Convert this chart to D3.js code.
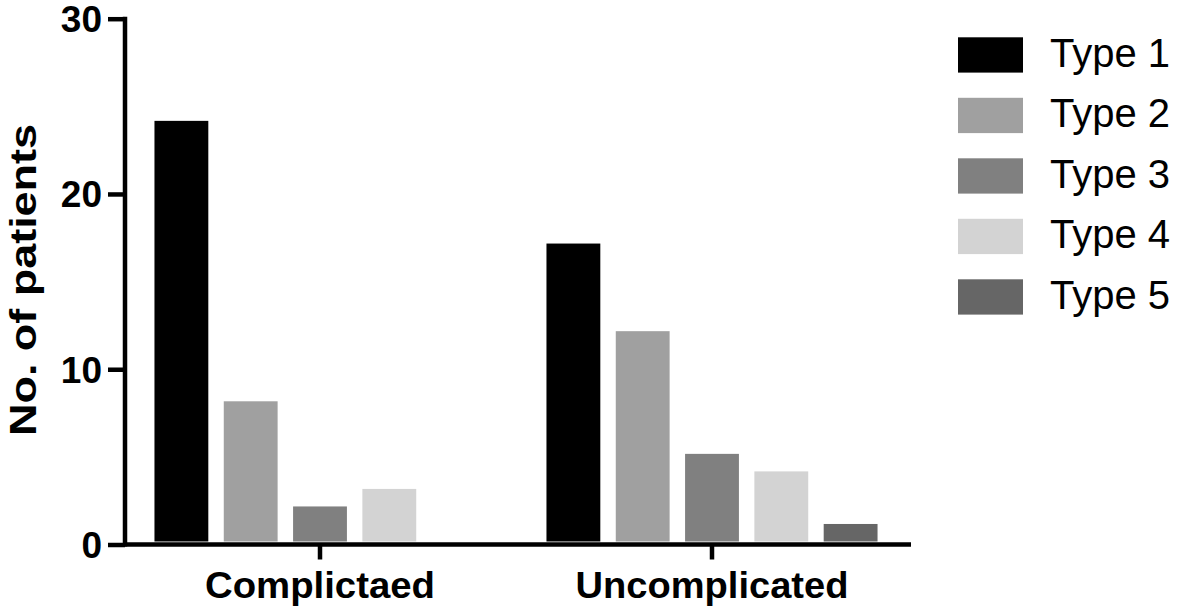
<!DOCTYPE html>
<html>
<head>
<meta charset="utf-8">
<script src="https://cdn.jsdelivr.net/npm/d3@7"></script>
<style>
  html, body { margin: 0; padding: 0; background: #fff; }
  svg { display: block; }
</style>
</head>
<body>
<svg id="chart" width="1181" height="610"></svg>
<script>
const categories = ["Complictaed", "Uncomplicated"];
const types = ["Type 1", "Type 2", "Type 3", "Type 4", "Type 5"];
const complicatedValues = [24, 8, 2, 3, 0];
const uncomplicatedValues = [17, 12, 5, 4, 1];
const colors = ["#000000", "#a0a0a0", "#808080", "#d3d3d3", "#666666"];
const yTicks = [0, 10, 20, 30];

const seriesByCategory = [complicatedValues, uncomplicatedValues];
const data = [];
categories.forEach((c, ci) => {
  types.forEach((t, ti) => data.push({ cat: c, type: t, value: seriesByCategory[ci][ti] }));
});

const svg = d3.select("#chart");
const fontBold = "'Liberation Sans', Arial, Helvetica, sans-serif";

const y = d3.scaleLinear().domain([0, 30]).range([544.5, 18.7]);
const x0 = d3.scaleBand().domain(categories).range([124, 908]).paddingInner(0.116).paddingOuter(0.058);
const x1 = d3.scaleBand().domain(types).range([0, x0.bandwidth()]).paddingInner(0.223).paddingOuter(0.1115);
const color = d3.scaleOrdinal().domain(types).range(colors);

// Bars (sit on top edge of the thick axis line)
svg.append("g")
  .attr("transform", "translate(0,-3)")
  .selectAll("rect")
  .data(data)
  .join("rect")
  .attr("x", d => x0(d.cat) + x1(d.type))
  .attr("width", x1.bandwidth())
  .attr("y", d => y(d.value))
  .attr("height", d => y(0) - y(d.value))
  .attr("fill", d => color(d.type));

// Y axis
const yAxis = svg.append("g")
  .attr("transform", "translate(125,0)")
  .call(d3.axisLeft(y).tickValues(yTicks).tickSize(17).tickPadding(6).tickSizeOuter(0));
yAxis.select(".domain").attr("stroke", "#000").attr("stroke-width", 4.5)
  .attr("d", `M0,${y(30) - 2}V${y(0) + 2}`);
yAxis.selectAll(".tick line").attr("stroke", "#000").attr("stroke-width", 4.5);
yAxis.selectAll(".tick text")
  .attr("font-family", fontBold).attr("font-weight", "bold").attr("font-size", 37)
  .attr("fill", "#000").attr("dy", "0.35em");

// X axis
const xAxis = svg.append("g")
  .attr("transform", `translate(0,${y(0)})`)
  .call(d3.axisBottom(x0).tickSize(15).tickSizeOuter(0).tickFormat(""));
xAxis.select(".domain").attr("stroke", "#000").attr("stroke-width", 4.5)
  .attr("d", "M123,0H911");
xAxis.selectAll(".tick line").attr("stroke", "#000").attr("stroke-width", 4.5);

// Category labels
svg.append("g").selectAll("text")
  .data(categories)
  .join("text")
  .attr("x", d => x0(d) + x0.bandwidth() / 2)
  .attr("y", 597.5)
  .attr("text-anchor", "middle")
  .attr("font-family", fontBold).attr("font-weight", "bold").attr("font-size", 36)
  .attr("fill", "#000")
  .attr("textLength", (d, i) => i === 0 ? 230 : 273)
  .attr("lengthAdjust", "spacingAndGlyphs")
  .text(d => d);

// Y axis title
svg.append("text")
  .attr("transform", "translate(36,280) rotate(-90)")
  .attr("text-anchor", "middle")
  .attr("font-family", fontBold).attr("font-weight", "bold").attr("font-size", 36)
  .attr("fill", "#000")
  .attr("textLength", 312)
  .attr("lengthAdjust", "spacingAndGlyphs")
  .text("No. of patients");

// Legend
const legendY = d3.scaleBand().domain(types).range([37.3, 37.3 + 60.5 * 5]).paddingInner(0);
const legend = svg.append("g").selectAll("g")
  .data(types)
  .join("g")
  .attr("transform", d => `translate(958,${legendY(d)})`);
legend.append("rect")
  .attr("width", 65).attr("height", 35.3)
  .attr("fill", d => color(d));
legend.append("text")
  .attr("x", 92).attr("y", 29.4)
  .attr("font-family", "'Liberation Sans', Arial, Helvetica, sans-serif")
  .attr("font-size", 40).attr("fill", "#000")
  .text(d => d);
</script>
</body>
</html>
